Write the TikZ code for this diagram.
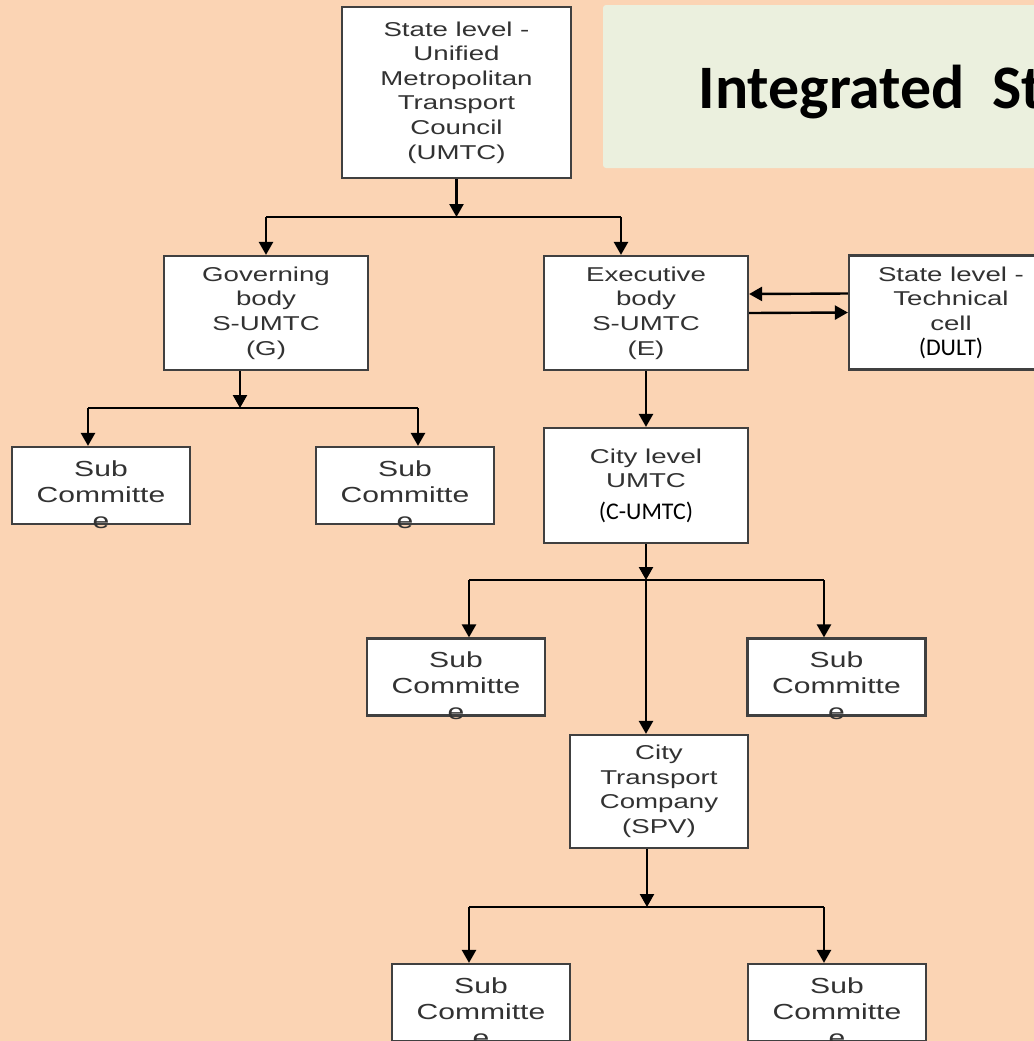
\documentclass[tikz,border=0pt]{standalone}
\usepackage{fontspec}
\usetikzlibrary{arrows.meta}
\newfontfamily\boxfont[FakeStretch=1.38]{Liberation Sans}
\newfontfamily\calfont{Carlito}
\definecolor{peach}{RGB}{251,212,180}
\definecolor{titlebg}{RGB}{235,240,222}
\definecolor{boxtext}{RGB}{50,50,50}
\tikzset{
  box/.style={draw=black!75,fill=white,line width=.022cm,minimum width=2.04cm,
    minimum height=1.14cm,inner sep=0pt,align=center,text=boxtext,
    font=\boxfont\fontsize{5.7}{7}\selectfont},
  subbox/.style={box,minimum width=1.78cm,minimum height=.77cm},
  subtext/.style={anchor=north,inner sep=0pt,align=center,text=boxtext,
    font=\boxfont\fontsize{6.2}{7.4}\selectfont},
  conn/.style={line width=.024cm},
  arr/.style={conn,-{Triangle[width=.14cm,length=.13cm]}}
}
\newcommand\calbit[1]{{\calfont\fontsize{6.8}{7}\selectfont\color{black}#1}}

\begin{document}
\begin{tikzpicture}
\useasboundingbox (0,0) rectangle (10.34,-10.41);
\clip (0,0) rectangle (10.34,-10.41);
\fill[peach] (0,0) rectangle (10.34,-10.41);
\fill[titlebg,rounded corners=.03cm] (6.03,-.05) rectangle (10.6,-1.68);
\node[anchor=base west,inner sep=0pt,
  font=\calfont\bfseries\fontsize{17.6}{20}\selectfont] (title) at (6.98,-1.08) {Integrated\ \ St};

% state level
\node[box,minimum width=2.29cm,minimum height=1.71cm] (umtc) at (4.565,-.925)
  {State level -\\Unified\\Metropolitan\\Transport\\Council\\(UMTC)};
\node[box] (gov) at (2.66,-3.13) {Governing\\body\\S-UMTC\\(G)};
\node[box] (exe) at (6.46,-3.13) {Executive\\body\\S-UMTC\\(E)};
\node[box] (tech) at (9.51,-3.125) {State level -\\Technical\\cell\\\calbit{(DULT)}};

% city level
\node[box,minimum height=1.15cm] (city) at (6.46,-4.855) {City level\\UMTC\\[.07cm]\calbit{(C-UMTC)}};
\node[box,minimum width=1.78cm,minimum height=1.13cm] (ctc) at (6.59,-7.915)
  {City\\Transport\\Company\\(SPV)};

% sub committees
\foreach \n/\x/\y in {s1/1.01/-4.855,s2/4.05/-4.855,s3/4.56/-6.77,
    s4/8.365/-6.77,s5/4.81/-10.025,s6/8.37/-10.025}{
  \node[subbox] (\n) at (\x,\y) {};
  \node[subtext] (\n t) at ([yshift=-.14cm]\n.north) {Sub\\Committe\\e};
}

% connectors
\coordinate (b1) at (4.565,-2.17);
\coordinate (b1l) at (2.66,-2.17);
\coordinate (b1r) at (6.21,-2.17);
\draw[arr] (umtc.south) -- (b1);
\draw[conn] (b1l) -- (b1r);
\draw[arr] (b1l) -- (gov.north);
\draw[arr] (b1r) -- (b1r |- exe.north);

\coordinate (b2) at (2.40,-4.08);
\coordinate (b2l) at (.88,-4.08);
\coordinate (b2r) at (4.18,-4.08);
\draw[arr] (gov.south -| b2) -- (b2);
\draw[conn] (b2l) -- (b2r);
\draw[arr] (b2l) -- (b2l |- s1.north);
\draw[arr] (b2r) -- (b2r |- s2.north);

\draw[arr] ([yshift=.19cm]tech.west) -- ([yshift=.19cm]exe.east);
\draw[arr] (exe.east) -- (tech.west);
\draw[arr] (exe) -- (city);

\coordinate (b3) at (6.46,-5.80);
\coordinate (b3l) at (4.69,-5.80);
\coordinate (b3r) at (8.24,-5.80);
\draw[arr] (city) -- (b3);
\draw[conn] (b3l) -- (b3r);
\draw[arr] (b3l) -- (b3l |- s3.north);
\draw[arr] (b3r) -- (b3r |- s4.north);
\draw[arr] (b3) -- (b3 |- ctc.north);

\coordinate (b4) at (6.47,-9.07);
\coordinate (b4l) at (4.69,-9.07);
\coordinate (b4r) at (8.24,-9.07);
\draw[arr] (ctc.south -| b4) -- (b4);
\draw[conn] (b4l) -- (b4r);
\draw[arr] (b4l) -- (b4l |- s5.north);
\draw[arr] (b4r) -- (b4r |- s6.north);
\end{tikzpicture}
\end{document}
